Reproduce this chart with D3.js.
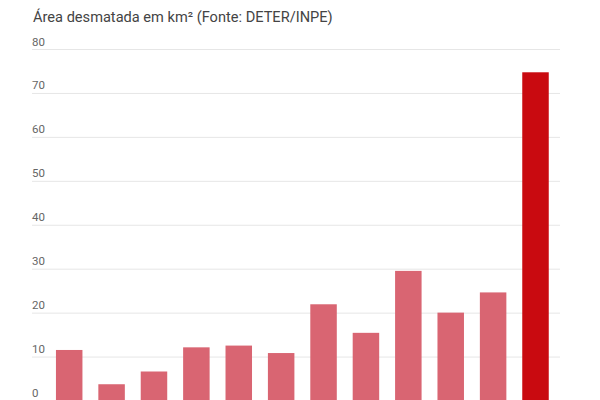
<!DOCTYPE html>
<html>
<head>
<meta charset="utf-8">
<script src="https://cdn.jsdelivr.net/npm/d3@7"></script>
<style>
  html, body { margin: 0; padding: 0; background: #fff; }
  svg { display: block; }
</style>
</head>
<body>
<svg id="chart" width="600" height="400"></svg>
<script>
const categories = ["1", "2", "3", "4", "5", "6", "7", "8", "9", "10", "11", "12"];
const values = [11.5, 3.7, 6.6, 12.1, 12.5, 10.8, 21.9, 15.4, 29.5, 20.0, 24.6, 74.7];
const tickValues = [0, 10, 20, 30, 40, 50, 60, 70, 80];
const title = "Área desmatada em km² (Fonte: DETER/INPE)";

const svg = d3.select("#chart");

const x = d3.scaleBand().domain(categories).range([48, 556.7]).paddingInner(0.375).paddingOuter(0.1875);
const y = d3.scaleLinear().domain([0, 80]).range([400.5, 49]);

svg.append("text")
  .attr("x", 33).attr("y", 21.5)
  .attr("font-family", "Roboto, 'Noto Sans', sans-serif")
  .attr("font-size", 14.6)
  .attr("fill", "#444")
  .text(title);

const axis = d3.axisRight(y).tickValues(tickValues).tickSize(528).tickFormat(d3.format("d"));
const g = svg.append("g").attr("transform", "translate(32,0)").call(axis);
g.select(".domain").remove();
g.selectAll(".tick line").attr("stroke", "#e6e6e6").attr("stroke-width", 1);
g.selectAll(".tick text")
  .attr("x", 0).attr("dy", -4)
  .attr("text-anchor", "start")
  .attr("font-family", "Roboto, 'Noto Sans', sans-serif")
  .attr("font-size", 11.5)
  .attr("fill", "#666");

svg.append("g").selectAll("rect")
  .data(values)
  .join("rect")
  .attr("x", (d, i) => x(categories[i]))
  .attr("width", x.bandwidth())
  .attr("y", d => y(d))
  .attr("height", d => y(0) - y(d))
  .attr("fill", (d, i) => i === values.length - 1 ? "#c90a10" : "#d96572");
</script>
</body>
</html>
